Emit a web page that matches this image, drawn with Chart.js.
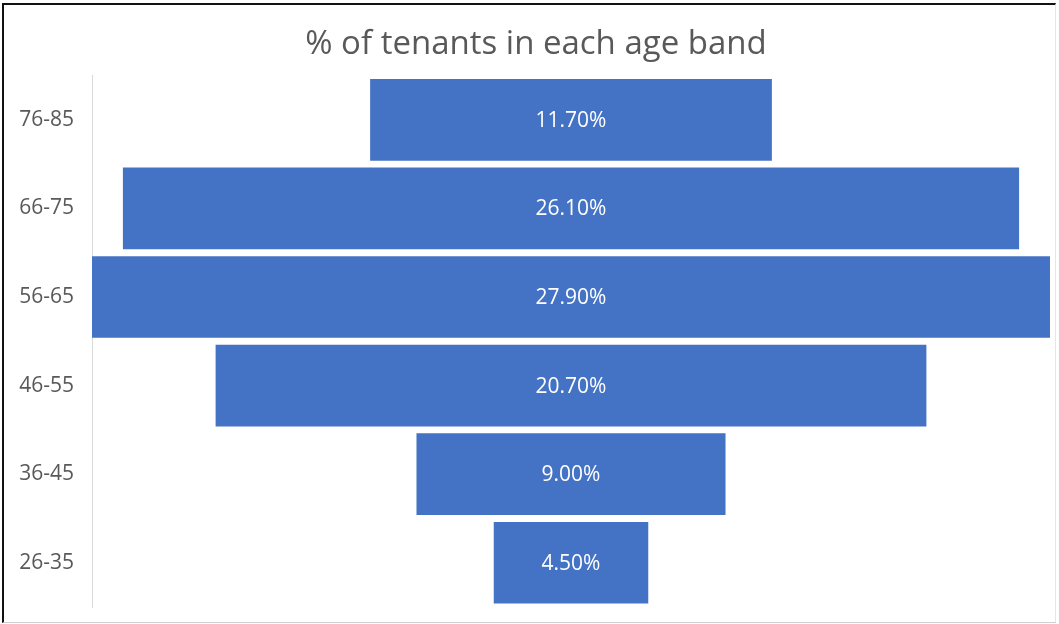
<!DOCTYPE html>
<html>
<head>
<meta charset="utf-8">
<title>% of tenants in each age band</title>
<script src="https://cdn.jsdelivr.net/npm/chart.js@4"></script>
<style>
  html, body { margin: 0; padding: 0; background: #fff; }
  #frame {
    position: absolute; left: 2px; top: 3px;
    width: 1051px; height: 617px;
    border-top: 2px solid #111; border-left: 2px solid #111;
    border-right: 1px solid #e6e6e6; border-bottom: 1px solid #d0d0d0;
  }
  #wrap { position: absolute; left: 0; top: 0; width: 1059px; height: 624px; }
</style>
</head>
<body>
<div id="frame"></div>
<div id="wrap"><canvas id="myChart" width="1059" height="624"></canvas></div>
<script>
'use strict';

// age bands, top to bottom
let bands = ['76-85', '66-75', '56-65', '46-55', '36-45', '26-35'];
// share of tenants per band (%)
let shares = [11.7, 26.1, 27.9, 20.7, 9.0, 4.5];

let barBlue = '#4472C4';
let greyText = '#595959';
let fontName = '"Open Sans", Lato, sans-serif';

// each bar is centred on zero, so the funnel is symmetric
let spans = shares.map(v => [-v / 2, v / 2]);
let widest = Math.max(...shares) / 2;

// white value label in the middle of each bar
const barLabels = {
  id: 'barLabels',
  afterDatasetsDraw(chart) {
    const ctx = chart.ctx;
    const meta = chart.getDatasetMeta(0);
    ctx.save();
    ctx.fillStyle = '#ffffff';
    ctx.font = '21px ' + fontName;
    ctx.textAlign = 'center';
    ctx.textBaseline = 'middle';
    meta.data.forEach((bar, i) => {
      const x = (bar.x + bar.base) / 2;
      ctx.fillText(shares[i].toFixed(2) + '%', x, bar.y + 1);
    });
    ctx.restore();
  }
};

// nudge the title box so it centres a bit right of the canvas middle
const titleNudge = {
  id: 'titleNudge',
  afterLayout(chart) {
    if (chart.titleBlock) chart.titleBlock.left += 22;
  }
};

const ctx = document.getElementById('myChart');
const myChart = new Chart(ctx, {
  type: 'bar',
  data: {
    labels: bands,
    datasets: [{
      data: spans,
      backgroundColor: barBlue,
      borderWidth: 0,
      barPercentage: 0.922,
      categoryPercentage: 1
    }]
  },
  options: {
    indexAxis: 'y',
    responsive: false,
    animation: false,
    layout: { padding: { top: 4, right: 9, bottom: 17, left: 0 } },
    plugins: {
      legend: { display: false },
      tooltip: { enabled: false },
      title: {
        display: true,
        text: '% of tenants in each age band',
        color: greyText,
        font: { family: fontName, size: 33, weight: 'normal' },
        padding: { top: 21, bottom: 11 }
      }
    },
    scales: {
      x: {
        display: false,
        min: -widest,
        max: widest
      },
      y: {
        grid: { display: true, drawOnChartArea: false, drawTicks: false },
        border: { display: true, color: '#d9d9d9', width: 1 },
        ticks: {
          color: greyText,
          font: { family: fontName, size: 21 },
          padding: 18
        },
        afterFit(scale) {
          // fixed axis width; no extra room above/below for tick labels
          scale.width = 92;
          scale.paddingTop = 0;
          scale.paddingBottom = 0;
        }
      }
    }
  },
  plugins: [barLabels, titleNudge]
});
</script>
</body>
</html>
